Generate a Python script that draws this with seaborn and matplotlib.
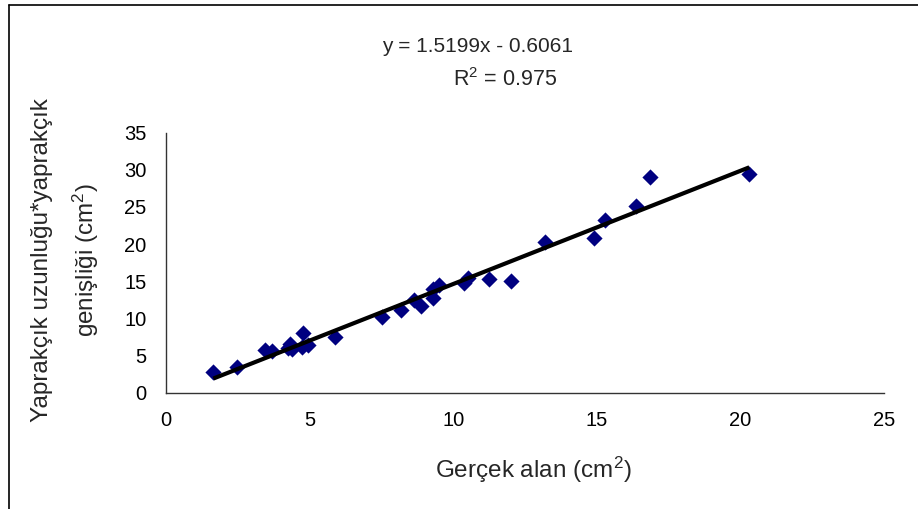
import matplotlib
matplotlib.use("Agg")
import matplotlib.pyplot as plt
from matplotlib.lines import Line2D
import seaborn as sns
import pandas as pd

# ---- data ----
gercek_alan = [1.65, 2.48, 3.45, 3.68, 4.25, 4.32, 4.40, 4.73, 4.78, 4.95,
               5.89, 7.51, 8.18, 8.62, 8.87, 9.28, 9.30, 9.50, 10.36, 10.53,
               11.23, 12.02, 13.20, 14.91, 15.27, 16.38, 16.84, 20.31]
uzunluk_x_genislik = [2.75, 3.45, 5.75, 5.55, 6.00, 6.55, 5.85, 6.20, 8.00, 6.40,
                      7.45, 10.15, 11.10, 12.50, 11.70, 12.70, 13.90, 14.50, 14.80, 15.50,
                      15.26, 15.03, 20.30, 20.80, 23.30, 25.10, 29.10, 29.50]
x_ticks = [0, 5, 10, 15, 20, 25]
y_ticks = [0, 5, 10, 15, 20, 25, 30, 35]
equation_text = "y = 1.5199x - 0.6061"
r2_text = "R$^{\\mathregular{2}}$ = 0.975"
x_label = "Gerçek alan (cm$^{\\mathregular{2}}$)"
y_label_1 = "Yaprakçık uzunluğu*yaprakçık"
y_label_2 = "genişliği (cm$^{\\mathregular{2}}$)"

df = pd.DataFrame({"x": gercek_alan, "y": uzunluk_x_genislik})

sns.set_style("white")
plt.rcParams["font.family"] = ["Liberation Sans", "DejaVu Sans"]
plt.rcParams["mathtext.fontset"] = "custom"
plt.rcParams["mathtext.rm"] = "Liberation Sans"
plt.rcParams["mathtext.it"] = "Liberation Sans:italic"
plt.rcParams["mathtext.bf"] = "Liberation Sans:bold"

W, H = 918, 509
fig = plt.figure(figsize=(W / 100, H / 100), dpi=100)
ax = fig.add_axes([166 / W, 1 - 392.7 / H, (884 - 166) / W, (392.7 - 132.7) / H])

sns.regplot(data=df, x="x", y="y", ax=ax, ci=None, truncate=True,
            marker="D",
            scatter_kws={"s": 68, "color": "#000080", "edgecolor": "#000080",
                         "linewidths": 0, "alpha": 1, "zorder": 3},
            line_kws={"color": "black", "lw": 3.0, "zorder": 4,
                      "solid_capstyle": "butt"})

ax.set_xlim(0, 25)
ax.set_ylim(0, 35)
ax.set_xticks(x_ticks)
ax.set_yticks(y_ticks)
ax.set_xlabel("")
ax.set_ylabel("")
for s in ["top", "right"]:
    ax.spines[s].set_visible(False)
for s in ["left", "bottom"]:
    ax.spines[s].set_color("#333333")
    ax.spines[s].set_linewidth(1.0)
ax.tick_params(axis="both", direction="out", length=5, width=1.0,
               color="#333333", labelsize=14.5, labelcolor="black")
ax.tick_params(axis="y", pad=9)
ax.tick_params(axis="x", pad=8)

# equation / R^2 labels
fig.text(478 / W, 1 - 46 / H, equation_text, ha="center", va="center", fontsize=15)
fig.text(505 / W, 1 - 80 / H, r2_text, ha="center", va="center", fontsize=15.5)

# axis labels
fig.text(533 / W, 1 - 470 / H, x_label, ha="center", va="center", fontsize=17.5)
fig.text(42 / W, 1 - 260 / H, y_label_1, ha="center", va="center",
         rotation=90, fontsize=17.5)
fig.text(86 / W, 1 - 260 / H, y_label_2, ha="center", va="center",
         rotation=90, fontsize=17.5)

# chart border (left and top edges visible in the reference)
fig.add_artist(Line2D([9 / W, 9 / W], [0, 1 - 5 / H], color="black", lw=1.2,
                      transform=fig.transFigure))
fig.add_artist(Line2D([9 / W, 1], [1 - 5 / H, 1 - 5 / H], color="black", lw=1.2,
                      transform=fig.transFigure))

fig.savefig("out.png", dpi=100)
